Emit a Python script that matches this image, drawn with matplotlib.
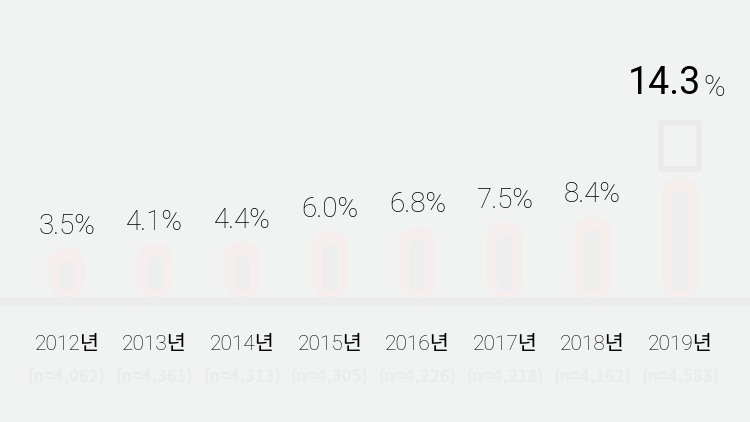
import matplotlib
matplotlib.use("Agg")
import matplotlib.pyplot as plt
from matplotlib.patches import FancyBboxPatch
from matplotlib.path import Path
import matplotlib.transforms as mtransforms
import numpy as np

years = ["2012년", "2013년", "2014년", "2015년", "2016년", "2017년", "2018년", "2019년"]
values = [3.5, 4.1, 4.4, 6.0, 6.8, 7.5, 8.4, 14.3]
labels = ["3.5%", "4.1%", "4.4%", "6.0%", "6.8%", "7.5%", "8.4%", "14.3%"]
ns = ["(n=4,062)", "(n=4,361)", "(n=4,313)", "(n=4,305)", "(n=4,226)", "(n=4,218)", "(n=4,162)", "(n=4,583)"]

BASE = 4.06  # visual baseline offset below zero
BG = "#f1f2f2"
PINK = "#f6eded"
INNER = "#efeeee"

fam_num = ["Roboto", "Noto Sans CJK KR"]
fam_kr = ["Roboto", "Noto Sans CJK KR"]

fig = plt.figure(figsize=(7.5, 4.22), dpi=100, facecolor=BG)
ax = fig.add_axes([0, 0, 1, 1])
ax.set_facecolor(BG)
ax.set_xlim(-0.765, 7.797)
ax.set_ylim(-23.35, 41.77)
ax.axis("off")

# ground band
ax.axhspan(-4.06 - 9 / 6.48, -4.06, color="#ececec", lw=0, zorder=0)

x = np.arange(len(values))
vals = np.array(values)
bars = ax.bar(x, vals + BASE, bottom=-BASE, width=0.41, color="none")

fig.canvas.draw()
ppx = ax.transData.transform((1, 1)) - ax.transData.transform((0, 0))
aspect = (1 / ppx[1]) / (1 / ppx[0])
for b in bars:
    bx, by = b.get_x(), b.get_y()
    w, h = b.get_width(), b.get_height()
    p = FancyBboxPatch((bx, by), w, h,
                       boxstyle=f"round,pad=0,rounding_size={w/2}",
                       mutation_aspect=aspect, fc=PINK, ec="none", zorder=1)
    ax.add_patch(p)
    iw = w * 0.42
    top_in = 12 / ppx[1]
    bot_in = 5 / ppx[1]
    p2 = FancyBboxPatch((bx + (w - iw) / 2, by + bot_in), iw, h - top_in - bot_in,
                        boxstyle=f"round,pad=0,rounding_size={iw/2}",
                        mutation_aspect=aspect, fc=INNER, ec="none", zorder=2)
    ax.add_patch(p2)

# ghost square icon above last bar
rect = Path([(-0.42, -0.5), (0.42, -0.5), (0.42, 0.5), (-0.42, 0.5), (-0.42, -0.5)],
            [Path.MOVETO, Path.LINETO, Path.LINETO, Path.LINETO, Path.CLOSEPOLY])
tr = mtransforms.offset_copy(ax.transData, fig=fig, x=0, y=32, units="dots")
ax.plot([x[-1]], [vals[-1]], marker=rect, ms=33, mfc="none", mec="#ebebeb", mew=4,
        transform=tr, zorder=2)

for i, (v, lab) in enumerate(zip(vals, labels)):
    if i == len(vals) - 1:
        num, pct = lab[:-1], "%"
        ax.annotate(num, (i, v), xytext=(15, 55), textcoords="offset points",
                    ha="right", va="bottom", fontsize=27, family=fam_num,
                    fontweight="normal", color="#000000")
        ax.annotate(pct, (i, v), xytext=(16.5, 55), textcoords="offset points",
                    ha="left", va="bottom", fontsize=21, family=fam_num,
                    fontweight="light", color="#000000")
    else:
        ax.annotate(lab, (i, v), xytext=(0, 6), textcoords="offset points",
                    ha="center", va="bottom", fontsize=20, family=fam_num,
                    fontweight="light", color="#000000")

btr = ax.get_xaxis_transform()
for i, (yr, n) in enumerate(zip(years, ns)):
    ax.text(i, 0.1825, yr, transform=btr, ha="center", va="center",
            fontsize=15, family=fam_kr, color="#000000", fontweight="light")
    ax.text(i, 0.1066, n, transform=btr, ha="center", va="center",
            fontsize=12, family=["Noto Sans CJK KR"], color="#ebebeb",
            fontweight="bold")

fig.savefig("out.png", dpi=100, facecolor=BG)
